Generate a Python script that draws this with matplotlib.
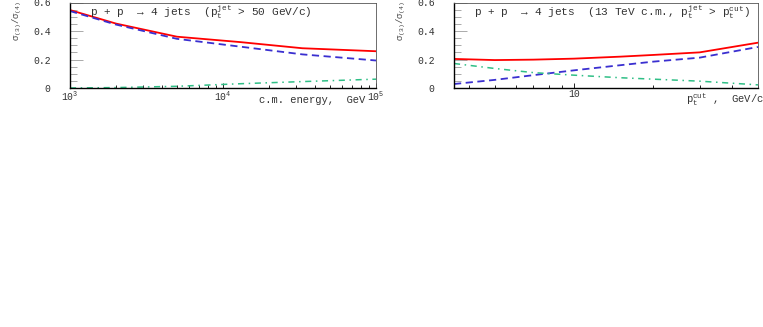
import matplotlib
matplotlib.use("Agg")
import matplotlib.pyplot as plt
from matplotlib.ticker import LogLocator, MultipleLocator, NullFormatter, FixedLocator, FixedFormatter

plt.rcParams['font.family'] = ['Liberation Mono', 'DejaVu Sans Mono']
plt.rcParams['mathtext.fontset'] = 'custom'
plt.rcParams['mathtext.rm'] = 'Liberation Mono'
plt.rcParams['mathtext.it'] = 'Liberation Mono:italic'
plt.rcParams['mathtext.default'] = 'rm'

# Left panel: c.m. energy (GeV)
energy = [1e3, 2e3, 5e3, 1.3e4, 3.3e4, 1e5]
red_e = [0.547, 0.452, 0.360, 0.322, 0.279, 0.258]
blue_e = [0.540, 0.445, 0.345, 0.290, 0.236, 0.193]
green_e = [0.000, 0.003, 0.012, 0.030, 0.045, 0.062]

# Right panel: p_t^cut (GeV/c)
ptcut = [3.5, 5, 7, 10, 15, 20, 30, 50]
red_p = [0.204, 0.196, 0.199, 0.206, 0.220, 0.232, 0.250, 0.318]
blue_p = [0.028, 0.057, 0.090, 0.124, 0.160, 0.185, 0.213, 0.288]
green_p = [0.172, 0.137, 0.108, 0.090, 0.072, 0.062, 0.048, 0.022]

yticks = [0, 0.2, 0.4, 0.6]
ytick_labels = ["0", "0.2", "0.4", "0.6"]

W, H = 763, 327
fig = plt.figure(figsize=(W / 100, H / 100), dpi=100)

def px_axes(x0, x1, y0, y1):
    return fig.add_axes([x0 / W, 1 - y1 / H, (x1 - x0) / W, (y1 - y0) / H])

axL = px_axes(70, 376, 2.5, 88)
axR = px_axes(454, 758, 2.5, 88)

RED = '#ff0000'
BLUE = '#3a2fd0'
GREEN = '#2fbf86'
fs = 7
fst = 8
fsx = 7.6

def style(ax):
    ax.set_xscale('log')
    ax.set_ylim(0, 0.6)
    ax.yaxis.set_major_locator(FixedLocator(yticks))
    ax.yaxis.set_major_formatter(FixedFormatter(ytick_labels))
    ax.yaxis.set_minor_locator(MultipleLocator(0.05))
    ax.tick_params(axis='y', which='major', direction='in', length=9, width=0.5, pad=14,
                   labelsize=fs, color='#888888', labelcolor='#333333')
    ax.tick_params(axis='y', which='minor', direction='in', length=5, width=0.5, color='#888888')
    ax.tick_params(axis='x', which='major', direction='in', length=3.5, width=0.6, pad=1,
                   labelsize=fs, labelcolor='#333333')
    ax.tick_params(axis='x', which='minor', direction='in', length=2, width=0.6)
    ax.tick_params(top=False, right=False, which='both')
    for s in ['left', 'bottom']:
        ax.spines[s].set_linewidth(1.0)
        ax.spines[s].set_color('black')
    for s in ['top', 'right']:
        ax.spines[s].set_linewidth(0.6)
        ax.spines[s].set_color('#555555')
    ax.set_ylabel(r'σ$_{(3)}$/σ$_{(4)}$', fontsize=6.5, color='#444444')
    ax.yaxis.set_label_coords(-0.15, 0.78)

# Left
axL.plot(energy, red_e, color=RED, lw=1.3, ls='-')
axL.plot(energy, blue_e, color=BLUE, lw=1.3, ls=(0, (4, 2.5)))
axL.plot(energy, green_e, color=GREEN, lw=1.1, ls=(0, (4, 3, 1, 3)))
style(axL)
axL.set_xlim(1e3, 1e5)
axL.xaxis.set_major_locator(FixedLocator([1e3, 1e4, 1e5]))
axL.xaxis.set_major_formatter(FixedFormatter([r'10$^{3}$', r'10$^{4}$', r'10$^{5}$']))
axL.xaxis.set_minor_locator(LogLocator(base=10, subs=range(2, 10)))
axL.xaxis.set_minor_formatter(NullFormatter())
axL.text(0.065, 0.89, r'p + p  → 4 jets  (p$_{t}^{jet}$ > 50 GeV/c)',
         transform=axL.transAxes, fontsize=fst, va='center', ha='left', color='#333333')
axL.text(0.965, -0.14, 'c.m. energy,  GeV', transform=axL.transAxes, fontsize=fsx,
         ha='right', va='center', color='#333333')

# Right
axR.plot(ptcut, red_p, color=RED, lw=1.3, ls='-')
axR.plot(ptcut, blue_p, color=BLUE, lw=1.3, ls=(0, (4, 2.5)))
axR.plot(ptcut, green_p, color=GREEN, lw=1.1, ls=(0, (4, 3, 1, 3)))
style(axR)
axR.set_xlim(3.5, 50)
axR.xaxis.set_major_locator(FixedLocator([10]))
axR.xaxis.set_major_formatter(FixedFormatter(['10']))
axR.xaxis.set_minor_locator(LogLocator(base=10, subs=range(2, 10)))
axR.xaxis.set_minor_formatter(NullFormatter())
axR.text(0.065, 0.89, r'p + p  → 4 jets  (13 TeV c.m., p$_{t}^{jet}$ > p$_{t}^{cut}$)',
         transform=axR.transAxes, fontsize=fst, va='center', ha='left', color='#333333')
axR.text(1.02, -0.14, r'p$_{t}^{cut}$ ,  GeV/c', transform=axR.transAxes, fontsize=fsx,
         ha='right', va='center', color='#333333')

fig.savefig('out.png', dpi=100)
